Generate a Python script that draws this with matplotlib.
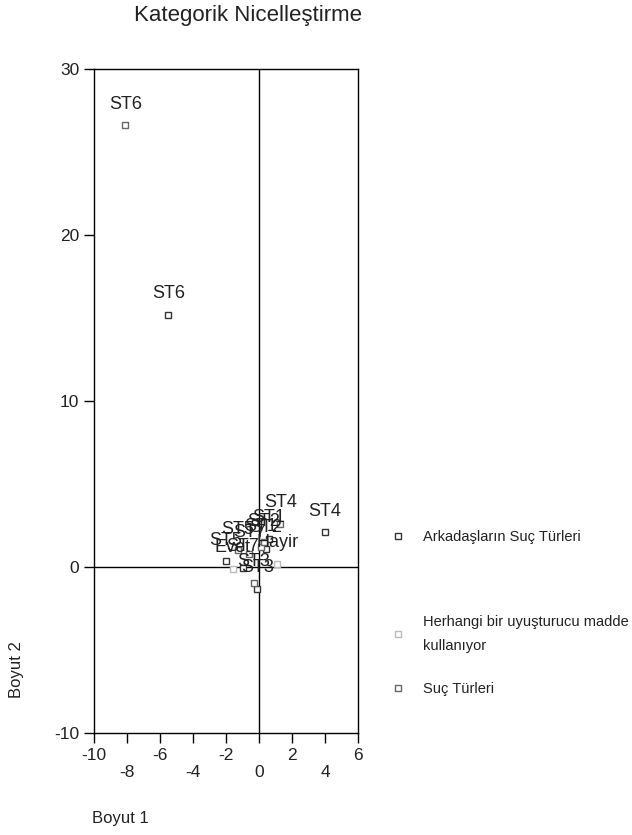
import matplotlib
matplotlib.use('Agg')
import matplotlib.pyplot as plt

# point labels and coordinates
ark_labels = ['ST1', 'ST2', 'ST3', 'ST4', 'ST5', 'ST6', 'ST7']
ark_x = [0.6, 0.4, -0.1, 3.98, -2.0, -5.5, -1.0]
ark_y = [1.7, 1.1, -1.3, 2.1, 0.35, 15.2, -0.05]

uyu_labels = ['Evet', 'Hayir']
uyu_x = [-1.6, 1.1]
uyu_y = [-0.1, 0.2]

suc_labels = ['ST1', 'ST2', 'ST3', 'ST4', 'ST5', 'ST6', 'ST7']
suc_x = [0.1, 0.3, -0.3, 1.3, -1.3, -8.1, -0.6]
suc_y = [1.2, 1.5, -0.95, 2.6, 1.0, 26.6, 0.8]

legend_names = ['Arkadaşların Suç Türleri',
                'Herhangi bir uyuşturucu madde\nkullanıyor',
                'Suç Türleri']
x_ticks = [-10, -8, -6, -4, -2, 0, 2, 4, 6]
y_ticks = [-10, 0, 10, 20, 30]

plt.rcParams['font.family'] = ['Liberation Sans', 'DejaVu Sans']
plt.rcParams['axes.unicode_minus'] = False

fig = plt.figure(figsize=(6.32, 8.35), dpi=100)
ax = fig.add_axes([94 / 632, 102 / 835, 264 / 632, 664 / 835])

series = [
    (ark_x, ark_y, ark_labels, '#333333'),
    (uyu_x, uyu_y, uyu_labels, '#bbbbbb'),
    (suc_x, suc_y, suc_labels, '#666666'),
]

handles = []
for xs, ys, labs, col in series:
    h, = ax.plot(xs, ys, ls='none', marker='s', ms=5, mfc='white',
                 mec=col, mew=1.0, zorder=3)
    handles.append(h)
    for x, y, t in zip(xs, ys, labs):
        ax.annotate(t, (x, y), xytext=(0, 9), textcoords='offset points',
                    ha='center', va='bottom', fontsize=13, color='#222222',
                    zorder=4)

ax.axhline(0, color='black', lw=1, zorder=1)
ax.axvline(0, color='black', lw=1, zorder=1)

ax.set_xlim(-10, 6)
ax.set_ylim(-10, 30)
ax.set_xticks(x_ticks)
ax.set_xticklabels([str(v) if i % 2 == 0 else '\n' + str(v)
                    for i, v in enumerate(x_ticks)])
ax.set_yticks(y_ticks)
ax.tick_params(direction='out', length=7, width=1, labelsize=12.5,
               color='black', labelcolor='#222222')
for s in ax.spines.values():
    s.set_linewidth(1)

fig.text(248 / 632, 1 - 15 / 835, 'Kategorik Nicelleştirme', ha='center',
         va='center', fontsize=16, color='#222222')
fig.text(92 / 632, 1 - 818 / 835, 'Boyut 1', ha='left', va='center',
         fontsize=12, color='#222222')
fig.text(17 / 632, 1 - 670 / 835, 'Boyut 2', ha='center', va='center',
         rotation=90, fontsize=12, color='#222222')

# legend entries sit at uneven heights in the reference, so one legend each
legend_y = [537, 634, 689]
for h, name, ly in zip(handles, legend_names, legend_y):
    leg = fig.legend([h], [name], loc='center left',
                     bbox_to_anchor=(391 / 632, 1 - ly / 835), frameon=False,
                     handlelength=1.0, handletextpad=1.2, borderpad=0,
                     borderaxespad=0, prop={'size': 10.5})
    for t in leg.get_texts():
        t.set_color('#222222')
        t.set_linespacing(1.9)

fig.savefig('out.png', dpi=100)
